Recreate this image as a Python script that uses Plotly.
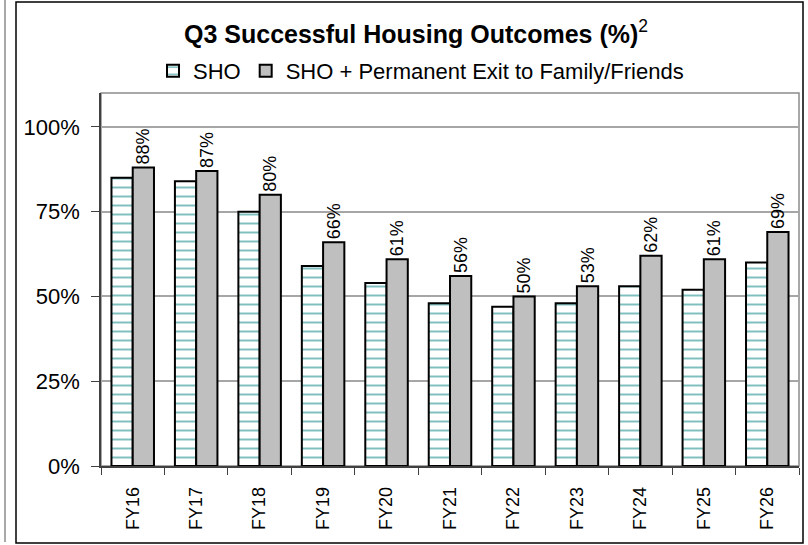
import plotly.graph_objects as go

years = ["FY16", "FY17", "FY18", "FY19", "FY20", "FY21", "FY22", "FY23", "FY24", "FY25", "FY26"]
sho = [85, 84, 75, 59, 54, 48, 47, 48, 53, 52, 60]
sho_family = [88, 87, 80, 66, 61, 56, 50, 53, 62, 61, 69]
labels_family = [f"{v}%" for v in sho_family]

FONT = "Liberation Sans, Arial, sans-serif"
W, H = 808, 545
L, R, T, B = 101, 9, 93, 79
PW, PH = W - L - R, H - T - B

fig = go.Figure()
fig.add_trace(go.Bar(
    x=years, y=sho, name="SHO",
    marker=dict(color="white", line=dict(color="black", width=2),
                pattern=dict(shape="-", fgcolor="#008080", bgcolor="white",
                             size=9, solidity=0.22)),
))
fig.add_trace(go.Bar(
    x=years, y=sho_family, name="SHO + Permanent Exit to Family/Friends",
    marker=dict(color="#bfbfbf", line=dict(color="black", width=2)),
    text=labels_family, textposition="outside", textangle=-90,
    constraintext="none",
    textfont=dict(size=18, color="black", family=FONT),
    cliponaxis=False,
))

fig.update_layout(
    width=W, height=H,
    paper_bgcolor="white", plot_bgcolor="white",
    margin=dict(l=L, r=R, t=T, b=B, autoexpand=False),
    barmode="group", bargap=0.33, bargroupgap=0,
    font=dict(family=FONT, color="black"),
    title=dict(text="<b>Q3 Successful Housing Outcomes (%)</b><sup>2</sup>",
               xref="container", x=416 / W, xanchor="center",
               yref="container", y=1 - 34 / H,
               yanchor="middle", font=dict(size=25, family=FONT)),
    legend=dict(orientation="h", xref="container", x=421 / W, xanchor="center",
                yref="container", y=1 - 71 / H, yanchor="middle",
                font=dict(size=22), itemwidth=30, traceorder="normal",
                bgcolor="rgba(0,0,0,0)"),
    showlegend=True,
)
fig.update_yaxes(
    range=[0, 110], tickvals=[0, 25, 50, 75, 100],
    ticktext=["0%", "25%", "50%", "75%", "100%"],
    tickfont=dict(size=22), showgrid=True, gridcolor="#a6a6a6", gridwidth=1.5,
    showline=True, linecolor="#404040", linewidth=1.5,
    ticks="outside", ticklen=8, tickcolor="#404040", zeroline=False,
    ticklabelstandoff=7, automargin=False,
)
fig.update_xaxes(
    tickangle=-90, tickfont=dict(size=18),
    showline=True, linecolor="#404040", linewidth=1.5,
    ticks="outside", ticklen=7, tickcolor="#404040", tickson="boundaries",
    ticklabelstandoff=12, automargin=False,
)

# plot area border and outer chart border
fig.add_shape(type="rect", xref="paper", yref="paper", x0=0, x1=1, y0=0, y1=1,
              line=dict(color="#8c8c8c", width=1.5), layer="below")
fig.add_shape(type="rect", xref="paper", yref="paper",
              x0=-(L - 16) / PW, x1=1 + 4 / PW, y0=-(543 - 466) / PH, y1=1 + (T - 2) / PH,
              line=dict(color="black", width=1.5))
fig.add_shape(type="line", xref="paper", yref="paper",
              x0=-(L - 5) / PW, x1=-(L - 5) / PW, y0=-(542 - 466) / PH, y1=1 + T / PH,
              line=dict(color="#8c8c8c", width=1.5))

fig.write_html("out.html", post_script="document.body.style.margin='0';",
               config={"displayModeBar": False})
